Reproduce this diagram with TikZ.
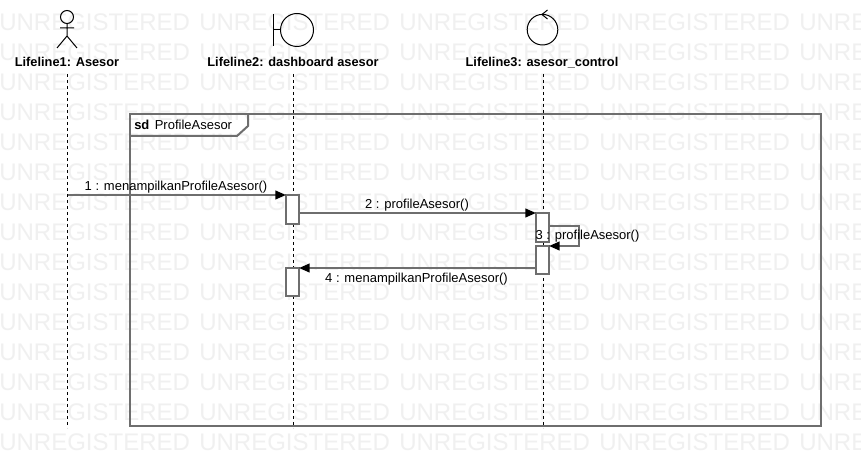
\documentclass[tikz,border=0pt]{standalone}
\usepackage{fontspec}
\setmainfont{Liberation Sans}
\usetikzlibrary{arrows.meta}
\definecolor{markgrey}{HTML}{F0F0F0}
\definecolor{framegrey}{HTML}{6E6E6E}
\tikzset{
  watermark/.style={text=markgrey,inner sep=0pt,anchor=west,font=\fontsize{18}{18}\selectfont},
  lifelabel/.style={inner sep=0pt,anchor=base,font=\fontsize{9.6}{11}\selectfont\bfseries},
  msglabel/.style={inner sep=0pt,anchor=base,font=\fontsize{9.75}{11}\selectfont},
  lifeline/.style={black,line width=0.75pt,dash pattern=on 2.25pt off 2.25pt},
  figure/.style={black,line width=0.75pt},
  bar/.style={rectangle,draw=framegrey,fill=white,line width=1.5pt,inner sep=0pt,outer sep=0pt,minimum width=9.75pt},
  msg/.style={framegrey,line width=1.5pt,-{Triangle[black,length=8pt,width=6.5pt]}},
}
\begin{document}
\begin{tikzpicture}[x=0.75pt,y=-0.75pt]
        \useasboundingbox (0,0) rectangle (861,466);
        \fill[white] (0,0) rectangle (861,466);

        % watermark
        \begin{scope}
          \clip (0,0) rectangle (861,466);
          \foreach \row in {0,...,14} {
            \foreach \col in {0,...,4} {
              \node[watermark] (w\row-\col) at (\col*200-1,22+\row*30) {UNREGISTERED};
            }
          }
        \end{scope}

        % frame
        \draw[framegrey,line width=1.5pt] (130,114) rectangle (821,426);
        \draw[framegrey,line width=1.5pt] (248,114) -- (248,126) -- (237,136) -- (130,136);
        \node[msglabel,anchor=base west] (frametitle) at (134,130) {\textbf{sd}\hspace{4pt}ProfileAsesor};

        % lifeline heads
        \draw[figure] (67,17) circle (6.5);
        \draw[figure] (67,23.5) -- (67,36) (60,28) -- (74,28) (57,48) -- (67,36) -- (77,48);
        \draw[figure] (273,14) -- (273,46) (273,30) -- (281,30);
        \draw[figure] (297,30) circle (16.5);
        \draw[figure] (542.5,29.7) circle (15.3);
        \draw[figure] (547.5,10) -- (542,14.5) -- (547.5,19);

        \node[lifelabel] (asesor) at (67,66.7) {Lifeline1: Asesor};
        \node[lifelabel] (dashboard) at (293,66.7) {Lifeline2: dashboard asesor};
        \node[lifelabel] (control) at (542,66.7) {Lifeline3: asesor\_control};

        \coordinate (asesortop) at (67.5,74);
        \coordinate (dashboardtop) at (293.5,74);
        \coordinate (controltop) at (543.5,74);
        \coordinate (asesorend) at (67.5,428);
        \coordinate (dashboardend) at (293.5,428);
        \coordinate (controlend) at (543.5,428);
        \draw[lifeline] (asesortop) -- (asesorend);
        \draw[lifeline] (dashboardtop) -- (dashboardend);
        \draw[lifeline] (controltop) -- (controlend);

        % activations
        \begin{scope}[every node/.style={bar}]
          \node[minimum height=21.75pt] (bar1) at (292.5,209.5) {};
          \node[minimum height=21.75pt] (bar2) at (542.5,227.5) {};
          \node[minimum height=21pt] (bar3) at (542.5,260) {};
          \node[minimum height=21pt] (bar4) at (292.5,282) {};
        \end{scope}

        % messages
        \coordinate (m1start) at (67.5,195);
        \coordinate (m3start) at (549,226);
        \draw[msg] (m1start) -- (bar1.north west);
        \draw[msg] (bar1.east |- bar2.north) -- (bar2.north west);
        \draw[msg] (m3start) -- ++(30,0) |- (bar3.north east);
        \draw[msg] (bar3.west |- bar4.north) -- (bar4.north east);

        \node[msglabel] (m1) at (176,190.5) {1 : menampilkanProfileAsesor()};
        \node[msglabel] (m2) at (417,208.5) {2 : profileAsesor()};
        \node[msglabel] (m3) at (587.5,239.5) {3 : profileAsesor()};
        \node[msglabel] (m4) at (416.5,282.5) {4 : menampilkanProfileAsesor()};
\end{tikzpicture}
\end{document}
